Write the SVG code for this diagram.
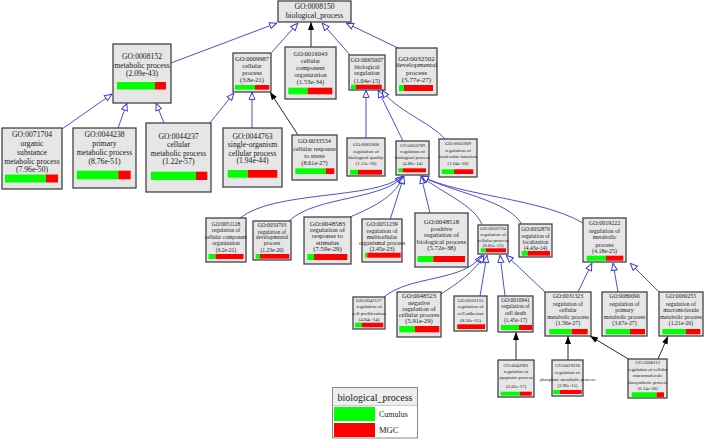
<svg xmlns="http://www.w3.org/2000/svg" width="704" height="439" viewBox="0 0 704 439">
<style>
.bx{fill:#e6e6e6;stroke:#444;stroke-width:1.3}
text{font-family:"Liberation Serif","Times New Roman",serif;fill:#1a1a1a;text-anchor:middle}
.g{fill:#00ff00}
.r{fill:#ff0000}
.isa{fill:none;stroke:#3a3ad6;stroke-width:0.9;marker-end:url(#hol)}
.prt{fill:none;stroke:#111;stroke-width:0.9;marker-end:url(#fil)}
.f77{font-size:7.7px}.f73{font-size:7.3px}.f7{font-size:7px}.f68{font-size:6.8px}.f65{font-size:6.5px}.f63{font-size:6.3px}.f6{font-size:6px}.f58{font-size:5.8px}.f55{font-size:5.5px}.f5{font-size:5px}.f48{font-size:4.8px}
</style>
<defs>
<marker id="hol" viewBox="0 0 8 8" refX="8" refY="4" markerWidth="8" markerHeight="8" markerUnits="userSpaceOnUse" orient="auto"><path d="M0.6,1 L7.6,4 L0.6,7 Z" fill="#fff" stroke="#3a3ad6" stroke-width="1"/></marker>
<marker id="fil" viewBox="0 0 8 8" refX="8" refY="4" markerWidth="8" markerHeight="8" markerUnits="userSpaceOnUse" orient="auto"><path d="M0,1 L8,4 L0,7 Z" fill="#000"/></marker>
</defs>
<rect width="704" height="439" fill="#fff"/>
<g id="edges">
<path class="isa" d="M171,63 L277,23"/>
<path class="isa" d="M272,52 L298,23"/>
<path class="prt" d="M311,47 L311,22"/>
<path class="isa" d="M350,55 L322,23"/>
<path class="isa" d="M398,48 L346,23"/>
<path class="isa" d="M62,129 L112,94"/>
<path class="isa" d="M118,128 L127,103"/>
<path class="isa" d="M164,123 L156,103"/>
<path class="isa" d="M209,124 L234,93"/>
<path class="isa" d="M252,128 L252,92"/>
<path class="prt" d="M298,135 L270,92"/>
<path class="isa" d="M366,138 L366,90"/>
<path class="isa" d="M403,141 L378,90"/>
<path class="isa" d="M445,139 C430,122 395,110 382,90"/>
<path class="isa" d="M240,218 C275,190 375,200 403,176"/>
<path class="isa" d="M289,221 C315,196 385,200 403,176"/>
<path class="isa" d="M350,217 C378,205 396,195 403,176"/>
<path class="isa" d="M390,220 L404,176"/>
<path class="isa" d="M430,213 L421,176"/>
<path class="isa" d="M482,225 C475,205 440,192 421,176"/>
<path class="isa" d="M522,225 C510,200 450,192 421,176"/>
<path class="isa" d="M583,223 C540,198 460,196 421,176"/>
<path class="isa" d="M384,297 C410,275 465,282 482,255"/>
<path class="isa" d="M441,294 C455,285 475,272 484,255"/>
<path class="isa" d="M480,296 L487,255"/>
<path class="isa" d="M505,296 L500,255"/>
<path class="isa" d="M545,292 L506,255"/>
<path class="isa" d="M578,292 L592,263"/>
<path class="isa" d="M618,292 L613,263"/>
<path class="isa" d="M659,292 L630,263"/>
<path class="prt" d="M516,360 L516,332"/>
<path class="prt" d="M568,360 L568,336"/>
<path class="prt" d="M630,360 L590,336"/>
<path class="prt" d="M658,359 L668,336"/>
</g>
<g id="n0008150"><rect class="bx" x="278" y="1" width="73" height="21"/><text class="f77" x="314.5" y="9.3">GO:0008150</text><text class="f77" x="314.5" y="17.6">biological_process</text></g>
<g id="n0008152"><rect class="bx" x="113" y="44" width="58" height="59"/><text class="f77" x="142" y="59.3">GO:0008152</text><text class="f77" x="142" y="67.9">metabolic process</text><text class="f77" x="142" y="76.4">(2.09e-43)</text><rect class="g" x="117" y="82" width="38" height="7.5"/><rect class="r" x="155" y="82" width="11" height="7.5"/></g>
<g id="n0009987"><rect class="bx" x="233" y="53" width="38" height="39"/><text class="f65" x="252" y="61.2">GO:0009987</text><text class="f65" x="252" y="68.2">cellular</text><text class="f65" x="252" y="75.2">process</text><text class="f65" x="252" y="81.5">(3.8e-21)</text><rect class="g" x="235" y="85" width="20" height="4.7"/><rect class="r" x="255" y="85" width="14.3" height="4.7"/></g>
<g id="n0016043"><rect class="bx" x="285" y="47" width="51" height="52"/><text class="f65" x="310.5" y="56.3">GO:0016043</text><text class="f65" x="310.5" y="63.3">cellular</text><text class="f65" x="310.5" y="70.3">component</text><text class="f65" x="310.5" y="77.3">organization</text><text class="f65" x="310.5" y="84.3">(1.53e-34)</text><rect class="g" x="288.3" y="87.7" width="19.4" height="6.6"/><rect class="r" x="307.7" y="87.7" width="24.6" height="6.6"/></g>
<g id="n0065007"><rect class="bx" x="349" y="55" width="36" height="35"/><text class="f63" x="367" y="62.1">GO:0065007</text><text class="f63" x="367" y="68.8">biological</text><text class="f63" x="367" y="75.4">regulation</text><text class="f63" x="367" y="82.6">(1.04e-15)</text><rect class="g" x="351" y="84.7" width="5" height="4.3"/><rect class="r" x="356" y="84.7" width="25.7" height="4.3"/></g>
<g id="n0032502"><rect class="bx" x="396" y="48" width="41" height="47"/><text class="f7" x="416.5" y="60.6">GO:0032502</text><text class="f7" x="416.5" y="67.3">developmental</text><text class="f7" x="416.5" y="75">process</text><text class="f7" x="416.5" y="81.6">(5.77e-27)</text><rect class="g" x="399" y="85" width="5" height="6"/><rect class="r" x="404" y="85" width="29" height="6"/></g>
<g id="n0071704"><rect class="bx" x="2" y="128" width="60" height="61"/><text class="f77" x="32" y="137.2">GO:0071704</text><text class="f77" x="32" y="146.3">organic</text><text class="f77" x="32" y="155">substance</text><text class="f77" x="32" y="163.7">metabolic process</text><text class="f77" x="32" y="171.8">(7.96e-50)</text><rect class="g" x="5" y="174.5" width="41" height="8"/><rect class="r" x="46" y="174.5" width="12" height="8"/></g>
<g id="n0044238"><rect class="bx" x="73" y="128" width="63" height="60"/><text class="f77" x="104.5" y="137.2">GO:0044238</text><text class="f77" x="104.5" y="146.3">primary</text><text class="f77" x="104.5" y="155.3">metabolic process</text><text class="f77" x="104.5" y="163.8">(8.76e-51)</text><rect class="g" x="76.7" y="170.7" width="41.6" height="8.6"/><rect class="r" x="118.3" y="170.7" width="12.4" height="8.6"/></g>
<g id="n0044237"><rect class="bx" x="146" y="123" width="65" height="69"/><text class="f77" x="178.5" y="138.5">GO:0044237</text><text class="f77" x="178.5" y="147.1">cellular</text><text class="f77" x="178.5" y="155.7">metabolic process</text><text class="f77" x="178.5" y="164.3">(1.22e-57)</text><rect class="g" x="151" y="171.7" width="45" height="8.3"/><rect class="r" x="196" y="171.7" width="11.3" height="8.3"/></g>
<g id="n0044763"><rect class="bx" x="223" y="128" width="59" height="59"/><text class="f77" x="252.5" y="138.5">GO:0044763</text><text class="f77" x="252.5" y="146.8">single-organism</text><text class="f77" x="252.5" y="155.6">cellular process</text><text class="f77" x="252.5" y="163.2">(1.94e-44)</text><rect class="g" x="227.7" y="170" width="20" height="7.7"/><rect class="r" x="247.7" y="170" width="29.6" height="7.7"/></g>
<g id="n0033554"><rect class="bx" x="292" y="135" width="45" height="45"/><text class="f63" x="314.5" y="143.1">GO:0033554</text><text class="f63" x="314.5" y="151.1">cellular response</text><text class="f63" x="314.5" y="158.1">to stress</text><text class="f63" x="314.5" y="164.8">(8.61e-27)</text><rect class="g" x="295.3" y="168.3" width="30.4" height="5.7"/><rect class="r" x="325.7" y="168.3" width="8.6" height="5.7"/></g>
<g id="n0065008"><rect class="bx" x="347" y="138" width="38" height="38"/><text class="f5" x="366" y="146">GO:0065008</text><text class="f5" x="366" y="152.7">regulation of</text><text class="f5" x="366" y="159">biological quality</text><text class="f5" x="366" y="165">(1.15e-18)</text><rect class="g" x="350" y="169.8" width="8" height="4.9"/><rect class="r" x="358" y="169.8" width="24" height="4.9"/></g>
<g id="n0050789"><rect class="bx" x="396" y="141" width="33" height="34"/><text class="f48" x="412.5" y="146.7">GO:0050789</text><text class="f48" x="412.5" y="153.4">regulation of</text><text class="f48" x="412.5" y="159.4">biological process</text><text class="f48" x="412.5" y="165">(4.86e-14)</text><rect class="g" x="398.3" y="168.3" width="4.4" height="4"/><rect class="r" x="402.7" y="168.3" width="23.3" height="4"/></g>
<g id="n0065009"><rect class="bx" x="439" y="139" width="38" height="38"/><text class="f5" x="458" y="145">GO:0065009</text><text class="f5" x="458" y="151.7">regulation of</text><text class="f5" x="458" y="158.4">molecular function</text><text class="f5" x="458" y="165">(1.04e-18)</text><rect class="g" x="441.7" y="169.3" width="12.3" height="4.7"/><rect class="r" x="454" y="169.3" width="19.3" height="4.7"/></g>
<g id="n0051128"><rect class="bx" x="206" y="218" width="40" height="44"/><text class="f55" x="226" y="225.5">GO:0051128</text><text class="f55" x="226" y="232">regulation of</text><text class="f55" x="226" y="238.5">cellular component</text><text class="f55" x="226" y="245">organization</text><text class="f55" x="226" y="251.5">(6.2e-21)</text><rect class="g" x="208.5" y="254" width="7" height="5"/><rect class="r" x="215.5" y="254" width="28" height="5"/></g>
<g id="n0050793"><rect class="bx" x="253" y="221" width="38" height="39"/><text class="f55" x="272" y="226.9">GO:0050793</text><text class="f55" x="272" y="233.6">regulation of</text><text class="f55" x="272" y="239.2">developmental</text><text class="f55" x="272" y="245.2">process</text><text class="f55" x="272" y="251.9">(1.23e-20)</text><rect class="g" x="255.7" y="254" width="4.3" height="4.7"/><rect class="r" x="260" y="254" width="29.3" height="4.7"/></g>
<g id="n0048583"><rect class="bx" x="304" y="217" width="47" height="47"/><text class="f68" x="327.5" y="225.6">GO:0048583</text><text class="f68" x="327.5" y="231.6">regulation of</text><text class="f68" x="327.5" y="238.3">response to</text><text class="f68" x="327.5" y="244.6">stimulus</text><text class="f68" x="327.5" y="250.6">(7.59e-29)</text><rect class="g" x="307.3" y="254" width="6.7" height="6"/><rect class="r" x="314" y="254" width="33.3" height="6"/></g>
<g id="n0051239"><rect class="bx" x="362" y="219" width="40" height="43"/><text class="f6" x="382" y="226.3">GO:0051239</text><text class="f6" x="382" y="233">regulation of</text><text class="f6" x="382" y="238.7">multicellular</text><text class="f6" x="382" y="244.7">organismal process</text><text class="f6" x="382" y="251">(2.45e-23)</text><rect class="g" x="365" y="252.7" width="2.3" height="5"/><rect class="r" x="367.3" y="252.7" width="33.4" height="5"/></g>
<g id="n0048518"><rect class="bx" x="415" y="213" width="53" height="54"/><text class="f68" x="441.5" y="224">GO:0048518</text><text class="f68" x="441.5" y="230.6">positive</text><text class="f68" x="441.5" y="237.3">regulation of</text><text class="f68" x="441.5" y="244">biological process</text><text class="f68" x="441.5" y="249.6">(5.72e-38)</text><rect class="g" x="417.5" y="256" width="15.8" height="6"/><rect class="r" x="433.3" y="256" width="31.7" height="6"/></g>
<g id="n0050794"><rect class="bx" x="478" y="225" width="30" height="29"/><text class="f5" x="493" y="230">GO:0050794</text><text class="f5" x="493" y="235.8">regulation of</text><text class="f5" x="493" y="241.6">cellular process</text><text class="f5" x="493" y="247.2">(6.85e-12)</text><rect class="g" x="480.7" y="248.3" width="5" height="4"/><rect class="r" x="485.7" y="248.3" width="20.3" height="4"/></g>
<g id="n0032879"><rect class="bx" x="519" y="224" width="33" height="33"/><text class="f55" x="535.5" y="231.2">GO:0032879</text><text class="f55" x="535.5" y="237.9">regulation of</text><text class="f55" x="535.5" y="243.6">localization</text><text class="f55" x="535.5" y="249.6">(4.43e-14)</text><rect class="g" x="521.7" y="251" width="6" height="4.7"/><rect class="r" x="527.7" y="251" width="22.3" height="4.7"/></g>
<g id="n0019222"><rect class="bx" x="583" y="218" width="43" height="44"/><text class="f6" x="604.5" y="225.3">GO:0019222</text><text class="f6" x="604.5" y="232.7">regulation of</text><text class="f6" x="604.5" y="239.3">metabolic</text><text class="f6" x="604.5" y="246.5">process</text><text class="f6" x="604.5" y="253">(4.18e-25)</text><rect class="g" x="586.7" y="255.7" width="19.3" height="5"/><rect class="r" x="606" y="255.7" width="17.3" height="5"/></g>
<g id="n0042127"><rect class="bx" x="353" y="297" width="32" height="32"/><text class="f5" x="369" y="302">GO:0042127</text><text class="f5" x="369" y="308">regulation of</text><text class="f5" x="369" y="314.8">cell proliferation</text><text class="f5" x="369" y="321.4">(4.84e-14)</text><rect class="g" x="355" y="322.7" width="6.7" height="4.6"/><rect class="r" x="361.7" y="322.7" width="21.6" height="4.6"/></g>
<g id="n0048523"><rect class="bx" x="397" y="292" width="44" height="45"/><text class="f65" x="419" y="298.2">GO:0048523</text><text class="f65" x="419" y="304.9">negative</text><text class="f65" x="419" y="311.2">regulation of</text><text class="f65" x="419" y="316.8">cellular process</text><text class="f65" x="419" y="322.9">(5.91e-29)</text><rect class="g" x="399.3" y="326" width="15.7" height="6.3"/><rect class="r" x="415" y="326" width="24.3" height="6.3"/></g>
<g id="n0030155"><rect class="bx" x="454" y="296" width="33" height="35"/><text class="f5" x="470.5" y="301.7">GO:0030155</text><text class="f5" x="470.5" y="308.2">regulation of</text><text class="f5" x="470.5" y="315">cell adhesion</text><text class="f5" x="470.5" y="321.8">(8.56e-15)</text><rect class="g" x="456.7" y="324.3" width="0.8" height="4.7"/><rect class="r" x="457.5" y="324.3" width="27.5" height="4.7"/></g>
<g id="n0010941"><rect class="bx" x="498" y="296" width="35" height="36"/><text class="f55" x="515.5" y="301.8">GO:0010941</text><text class="f55" x="515.5" y="308.3">regulation of</text><text class="f55" x="515.5" y="315.2">cell death</text><text class="f55" x="515.5" y="321.9">(1.45e-17)</text><rect class="g" x="501" y="325" width="18" height="5"/><rect class="r" x="519" y="325" width="13.3" height="5"/></g>
<g id="n0031323"><rect class="bx" x="545" y="292" width="46" height="44"/><text class="f58" x="568" y="298">GO:0031323</text><text class="f58" x="568" y="306">regulation of</text><text class="f58" x="568" y="312">cellular</text><text class="f58" x="568" y="319.2">metabolic process</text><text class="f58" x="568" y="325.2">(1.56e-27)</text><rect class="g" x="549.3" y="329" width="22.4" height="5.3"/><rect class="r" x="571.7" y="329" width="16" height="5.3"/></g>
<g id="n0080090"><rect class="bx" x="602" y="292" width="45" height="44"/><text class="f58" x="624.5" y="298">GO:0080090</text><text class="f58" x="624.5" y="306">regulation of</text><text class="f58" x="624.5" y="312">primary</text><text class="f58" x="624.5" y="319.2">metabolic process</text><text class="f58" x="624.5" y="325.2">(3.67e-27)</text><rect class="g" x="605.7" y="329" width="24.3" height="5.3"/><rect class="r" x="630" y="329" width="15" height="5.3"/></g>
<g id="n0060255"><rect class="bx" x="659" y="292" width="44" height="44"/><text class="f58" x="681" y="298">GO:0060255</text><text class="f58" x="681" y="306">regulation of</text><text class="f58" x="681" y="312">macromolecule</text><text class="f58" x="681" y="319.2">metabolic process</text><text class="f58" x="681" y="325.2">(1.21e-26)</text><rect class="g" x="662.3" y="329" width="23.4" height="5.3"/><rect class="r" x="685.7" y="329" width="14.6" height="5.3"/></g>
<g id="n0042981"><rect class="bx" x="498" y="360" width="36" height="37"/><text class="f48" x="516" y="366.6">GO:0042981</text><text class="f48" x="516" y="372.6">regulation of</text><text class="f48" x="516" y="379.3">apoptotic process</text><text class="f48" x="516" y="387.5">(2.05e-17)</text><rect class="g" x="500.7" y="391.7" width="19.3" height="4"/><rect class="r" x="520" y="391.7" width="11.7" height="4"/></g>
<g id="n0019220"><rect class="bx" x="552" y="360" width="31" height="36"/><text class="f48" x="567.5" y="367.3">GO:0019220</text><text class="f48" x="567.5" y="373.9">regulation of</text><text class="f48" x="567.5" y="380.9">phosphate metabolic process</text><text class="f48" x="567.5" y="387.3">(3.96e-15)</text><rect class="g" x="553.3" y="390" width="6.7" height="4"/><rect class="r" x="560" y="390" width="21.7" height="4"/></g>
<g id="n2000112"><rect class="bx" x="628" y="359" width="39" height="39"/><text class="f48" x="647.8" y="364.2">GO:2000112</text><text class="f48" x="647.8" y="370.8">regulation of cellular</text><text class="f48" x="647.8" y="377.4">macromolecule</text><text class="f48" x="647.8" y="384.2">biosynthetic process</text><text class="f48" x="647.8" y="390">(6.14e-20)</text><rect class="g" x="631.7" y="392.3" width="25" height="5"/><rect class="r" x="656.7" y="392.3" width="7.3" height="5"/></g>
<g id="legend">
<rect x="332.5" y="387.5" width="85" height="50.5" fill="#fff" stroke="#888" stroke-width="1"/>
<rect x="333" y="388" width="84" height="17" fill="#eeeeee"/>
<line x1="333" y1="405.5" x2="417" y2="405.5" stroke="#bbb" stroke-width="0.8"/>
<text x="375" y="401" style="font-size:10px">biological_process</text>
<rect class="g" x="334" y="407" width="41" height="14"/>
<rect class="r" x="334" y="423" width="41" height="14"/>
<text x="379" y="417" style="font-size:8px;text-anchor:start">Cumulus</text>
<text x="379" y="433" style="font-size:8.5px;text-anchor:start">MGC</text>
</g>
</svg>
